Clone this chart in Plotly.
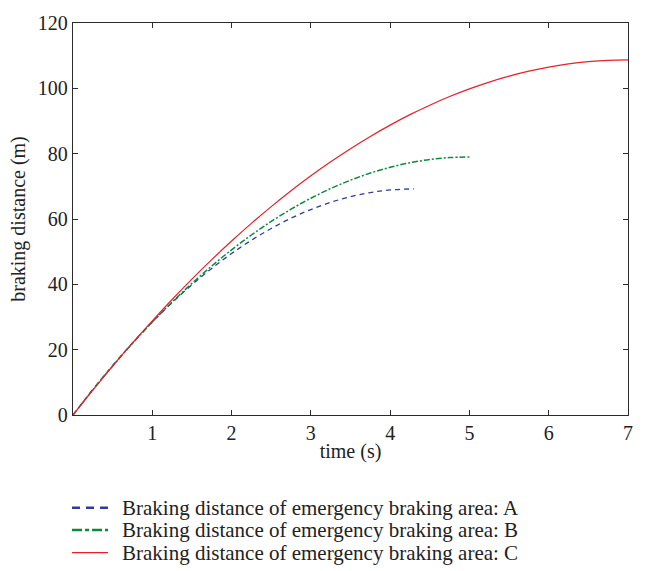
import plotly.graph_objects as go

# braking time samples (s) and braking distance (m) for each emergency braking area
t_a = [0, 0.25, 0.5, 0.75, 1, 1.25, 1.5, 1.75, 2, 2.25, 2.5, 2.75, 3, 3.25, 3.5, 3.75, 4, 4.3]
d_a = [0, 7.82, 15.16, 22.04, 28.46, 34.40, 39.88, 44.88, 49.42, 53.50, 57.10, 60.24,
       62.90, 65.10, 66.84, 68.10, 68.90, 69.23]

t_b = [0, 0.25, 0.5, 0.75, 1, 1.25, 1.5, 1.75, 2, 2.25, 2.5, 2.75, 3, 3.25, 3.5, 3.75,
       4, 4.25, 4.5, 4.75, 5]
d_b = [0, 7.70, 15.01, 21.92, 28.44, 34.56, 40.29, 45.62, 50.56, 55.10, 59.25, 63.00,
       66.36, 69.32, 71.89, 74.06, 75.84, 77.22, 78.21, 78.80, 79.00]

t_c = [0, 0.25, 0.5, 0.75, 1, 1.25, 1.5, 1.75, 2, 2.25, 2.5, 2.75, 3, 3.25, 3.5, 3.75,
       4, 4.25, 4.5, 4.75, 5, 5.25, 5.5, 5.75, 6, 6.25, 6.5, 6.75, 7]
d_c = [0, 7.63, 14.98, 22.05, 28.84, 35.36, 41.60, 47.56, 53.25, 58.66, 63.78, 68.64,
       73.21, 77.51, 81.53, 85.28, 88.74, 91.94, 94.84, 97.48, 99.83, 101.92, 103.72,
       105.25, 106.49, 107.47, 108.15, 108.58, 108.71]

names = ["Braking distance of emergency braking area: A",
         "Braking distance of emergency braking area: B",
         "Braking distance of emergency braking area: C"]

x_ticks = [1, 2, 3, 4, 5, 6, 7]
y_ticks = [0, 20, 40, 60, 80, 100, 120]

FONT = "Liberation Serif"
TEXT_COLOR = "#222222"
AXIS_COLOR = "#2b2b2b"

styles = [
    dict(color="#2e3d98", width=1.3, dash="5px,4px"),
    dict(color="#0a8a3a", width=1.5, dash="6px,2px,2px,2px"),
    dict(color="#e8202a", width=1.2, dash="solid"),
]
# heavier strokes for the key samples under the chart
key_styles = [
    dict(color="#2e3d98", width=2.6, dash="8px,6px"),
    dict(color="#0a8a3a", width=2.6, dash="10px,3px,4px,3px"),
    dict(color="#e8202a", width=1.3, dash="solid"),
]

fig = go.Figure()
for t, d, name, st in zip([t_a, t_b, t_c], [d_a, d_b, d_c], names, styles):
    fig.add_trace(go.Scatter(x=t, y=d, mode="lines", name=name,
                             line=dict(shape="spline", **st)))

# key below the axes: line sample + label for each series
key_rows = [-0.2367, -0.2935, -0.3510]
for yk, name, st in zip(key_rows, names, key_styles):
    fig.add_shape(type="line", xref="paper", yref="paper",
                  x0=-0.0018, x1=0.0631, y0=yk, y1=yk, line=st)
    fig.add_annotation(xref="paper", yref="paper", x=0.084, y=yk,
                       xanchor="left", yanchor="middle", showarrow=False,
                       text=name, font=dict(family=FONT, size=21, color=TEXT_COLOR))

fig.update_layout(
    width=645, height=571,
    margin=dict(l=73, r=17, t=18, b=156),
    paper_bgcolor="white", plot_bgcolor="white",
    font=dict(family=FONT, size=20, color=TEXT_COLOR),
    showlegend=False,
    xaxis=dict(range=[0, 7], tickvals=x_ticks, ticks="inside", ticklen=5,
               tickcolor=AXIS_COLOR, showline=True, linecolor=AXIS_COLOR, linewidth=1.4,
               mirror="ticks", showgrid=False, zeroline=False,
               title=dict(text="time (s)", standoff=0, font=dict(size=20)),
               tickfont=dict(size=20)),
    yaxis=dict(range=[0, 120], tickvals=y_ticks, ticks="inside", ticklen=5,
               tickcolor=AXIS_COLOR, showline=True, linecolor=AXIS_COLOR, linewidth=1.4,
               mirror="ticks", showgrid=False, zeroline=False,
               title=dict(text="braking distance (m)", standoff=6, font=dict(size=20)),
               tickfont=dict(size=20)),
)

fig.write_html("out.html")
